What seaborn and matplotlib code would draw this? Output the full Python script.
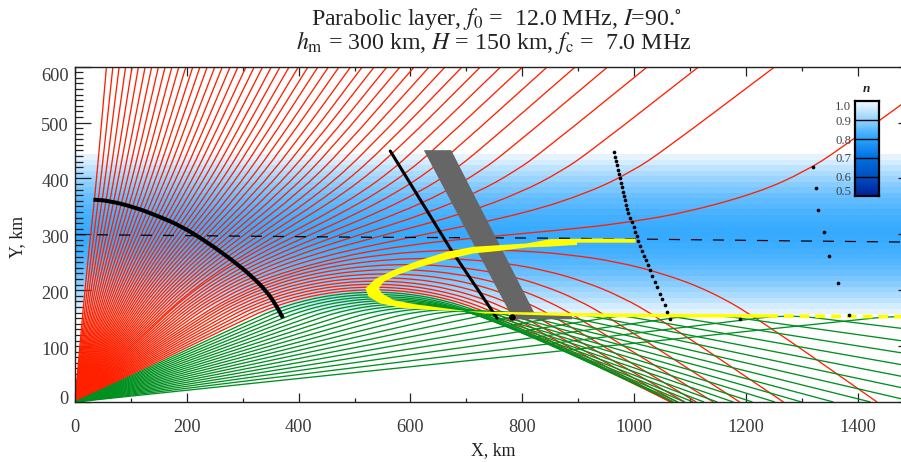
import numpy as np
import pandas as pd
import matplotlib
matplotlib.use("Agg")
import matplotlib.pyplot as plt
from matplotlib.colors import LinearSegmentedColormap
from matplotlib.patches import PathPatch
from matplotlib.path import Path
from matplotlib.transforms import ScaledTranslation
import seaborn as sns

# ---- rays that pass through the layer: x (km) at the listed heights (km) ----
low_levels = [150, 225, 300, 375, 450, 600]
low_rays = [
    [13.1, 20.2, 28.1, 36.1, 43.2, 56.3],
    [15.8, 24.4, 33.9, 43.4, 52.0, 67.8],
    [18.4, 28.4, 39.5, 50.6, 60.6, 79.0],
    [21.1, 32.5, 45.3, 58.1, 69.5, 90.6],
    [23.8, 36.7, 51.1, 65.4, 78.4, 102.2],
    [26.4, 40.7, 56.8, 72.8, 87.2, 113.6],
    [29.2, 45.0, 62.8, 80.6, 96.4, 125.6],
    [31.9, 49.2, 68.7, 88.2, 105.5, 137.4],
    [34.6, 53.4, 74.7, 95.9, 114.8, 149.4],
    [37.4, 57.7, 80.7, 103.6, 124.0, 161.4],
    [40.2, 62.1, 86.8, 111.4, 133.4, 173.6],
    [43.0, 66.5, 93.0, 119.5, 143.0, 186.0],
    [45.9, 70.9, 99.3, 127.6, 152.7, 198.6],
    [48.7, 75.3, 105.5, 135.8, 162.3, 211.0],
    [51.6, 79.8, 111.9, 143.9, 172.2, 223.8],
    [54.6, 84.5, 118.4, 152.3, 182.2, 236.8],
    [57.6, 89.2, 125.2, 161.1, 192.8, 250.4],
    [60.6, 93.9, 131.9, 169.8, 203.2, 263.8],
    [63.7, 98.8, 138.9, 179.0, 214.1, 277.8],
    [66.8, 103.6, 145.9, 188.1, 225.0, 291.8],
    [69.9, 108.6, 153.1, 197.5, 236.3, 306.2],
    [73.2, 113.8, 160.5, 207.3, 247.8, 321.0],
    [76.4, 118.9, 168.0, 217.1, 259.6, 336.0],
    [79.8, 124.1, 175.8, 227.4, 271.8, 351.6],
    [83.1, 129.5, 183.6, 237.7, 284.1, 367.2],
    [86.6, 135.0, 191.7, 248.4, 296.8, 383.4],
    [90.1, 140.5, 200.0, 259.4, 309.9, 400.0],
    [93.7, 146.3, 208.6, 270.9, 323.5, 417.2],
    [97.4, 152.1, 217.5, 282.9, 337.6, 435.0],
    [101.2, 158.3, 226.9, 295.5, 352.6, 453.8],
    [105.0, 164.4, 236.4, 308.4, 367.8, 472.8],
    [109.0, 171.3, 246.8, 322.4, 384.6, 493.6],
    [113.0, 177.8, 257.2, 336.5, 401.4, 514.4],
    [117.2, 184.6, 267.9, 351.2, 418.6, 535.8],
    [121.5, 191.7, 279.3, 366.8, 437.1, 558.6],
    [125.9, 199.0, 291.0, 383.1, 456.1, 582.0],
    [130.4, 206.5, 303.7, 400.8, 477.0, 607.4],
    [135.1, 214.4, 317.1, 419.8, 499.1, 634.2],
    [139.9, 222.7, 331.3, 439.9, 522.7, 662.6],
    [144.9, 231.0, 346.5, 462.1, 548.1, 693.0],
    [150.0, 240.0, 362.9, 485.8, 575.8, 725.8],
]
high_levels = [150, 187.5, 225, 262.5, 300, 337.5, 375, 412.5, 450, 600]
high_rays = [
    [155.3, 197.9, 249.4, 311.2, 381.1, 450.9, 512.7, 564.2, 606.8, 762.1],
    [160.9, 205.2, 259.3, 325.2, 400.7, 476.3, 542.2, 596.2, 640.6, 801.5],
    [166.6, 212.6, 269.6, 340.4, 422.8, 505.2, 575.9, 632.9, 678.9, 845.5],
    [172.6, 220.6, 280.6, 356.9, 447.8, 538.7, 615.0, 675.0, 723.0, 895.6],
    [178.8, 228.7, 292.3, 375.0, 476.8, 578.7, 661.4, 725.0, 774.9, 953.7],
    [185.2, 237.2, 304.7, 395.2, 512.2, 629.2, 719.8, 787.2, 839.2, 1024.4],
    [192.0, 246.3, 318.0, 418.7, 558.0, 697.5, 798.1, 869.9, 924.2, 1116.2],
    [199.1, 255.8, 332.5, 447.4, 626.2, 805.0, 919.9, 996.6, 1053.3, 1252.4],
]
steep_levels = [150, 187.5, 225, 262.5, 281.25, 290.6, 300, 309.4, 318.75, 337.5, 375, 412.5, 450, 600]
steep_ray = [206.5, 265.7, 348.3, 483.9, 601.3, 685.0, 785.9, 886.8, 970.6, 1087.9, 1223.5, 1306.1, 1365.3, 1571.8]

# ---- reflected rays: x at layer base, x at apex, heights along the way up ----
refl_red_base = [214.2, 222.4, 231.0, 240.0, 249.6, 259.8, 270.6, 282.1, 294.4, 307.5]
refl_red_apex = [717.4, 633.7, 594.5, 571.0, 555.7, 545.3, 538.5, 534.5, 532.9, 533.2]
refl_red_y = [
    [150, 198.2, 229.8, 250.9, 263.6, 270.5, 272.7],
    [150, 189.0, 216.7, 236.0, 248.2, 255.1, 257.3],
    [150, 184.0, 208.7, 226.1, 237.6, 244.1, 246.3],
    [150, 180.2, 202.4, 218.4, 229.1, 235.3, 237.3],
    [150, 176.8, 197.2, 211.9, 221.9, 227.7, 229.6],
    [150, 174.0, 192.7, 206.3, 215.6, 220.9, 222.7],
    [150, 171.9, 188.9, 201.3, 209.9, 214.9, 216.6],
    [150, 170.1, 185.5, 196.8, 204.9, 209.5, 211.0],
    [150, 168.1, 182.2, 192.7, 200.1, 204.4, 205.8],
    [150, 166.3, 179.3, 188.9, 195.7, 199.7, 201.0],
]
refl_green_base = [321.7, 336.9, 353.4, 371.3, 390.8, 412.1, 435.6, 461.7, 490.6, 523.1,
                   559.8, 601.6, 649.7, 705.7, 771.7, 850.7, 947.0, 1067.0, 1222.0, 1427.0]
refl_green_apex = [535.4, 539.4, 545.4, 553.0, 562.6, 574.5, 588.8, 606.0, 626.1, 649.9,
                   678.3, 711.6, 751.6, 799.5, 857.4, 928.5, 1016.9, 1129.0, 1276.0, 1473.0]
refl_green_y = [
    [150, 165.0, 176.6, 185.5, 191.7, 195.4, 196.6],
    [150, 163.6, 174.2, 182.4, 188.1, 191.4, 192.5],
    [150, 162.2, 171.9, 179.4, 184.5, 187.6, 188.6],
    [150, 161.0, 169.8, 176.6, 181.3, 184.1, 185.0],
    [150, 159.8, 167.9, 173.9, 178.2, 180.8, 181.6],
    [150, 162.7, 171.6, 176.8, 178.5],
    [150, 161.4, 169.3, 174.0, 175.5],
    [150, 160.2, 167.2, 171.4, 172.8],
    [150, 159.0, 165.3, 168.9, 170.2],
    [150, 157.9, 163.4, 166.7, 167.8],
    [150, 156.9, 161.7, 164.7, 165.6],
    [150, 156.0, 160.2, 162.7, 163.5],
    [150, 155.1, 158.7, 160.9, 161.6],
    [150, 154.4, 157.5, 159.3, 159.9],
    [150, 153.6, 156.3, 157.8, 158.3],
    [150, 152.9, 155.1, 156.4, 156.8],
    [150, 152.5, 154.1, 155.2, 155.5],
    [150, 151.8, 153.3, 154.0, 154.3],
    [150, 151.4, 152.6, 153.2, 153.3],
    [150, 151.0, 151.9, 152.3, 152.4],
]

# ---- refractive index bands ----
band_n = [.985, .967, .947, .927, .909, .892, .877, .863, .851, .840, .831, .824, .818, .814, .812,
          .814, .818, .824, .831, .840, .851, .863, .877, .892, .909, .927, .947, .967, .985]
band_bottom, band_top = 157, 443
cbar_labels = ["1.0", "0.9", "0.8", "0.7", "0.6", "0.5"]

# ---- overlays ----
dash_x = [0, 490, 870, 1306, 1500]
dash_y = [299.5, 295, 293, 288, 286]
arc_x = [33, 60, 105, 150, 189, 235, 281, 314, 344, 361.5, 372]
arc_y = [362, 360, 349, 332, 315, 287, 254, 227, 197, 170, 150]
front_x = [564, 671, 755]
front_y = [449, 275, 150]
blob_x = [782]
blob_y = [152]
grey_x = [624, 673, 755, 823, 889, 889, 784]
grey_y = [450.5, 450.5, 290, 157, 156, 148, 148]
yellow_x = [1003, 940, 850, 808.5, 761, 713, 665.4, 612, 570, 537.3, 519.4, 525.4, 546.2, 582, 641.6,
            731, 820.4, 939.6, 1240, 1240, 939.6, 820.4, 731, 641.6, 606, 570, 549.2, 543.3, 552.2,
            576, 612, 665.4, 713, 761, 808.5, 844.2, 898, 898, 1003]
yellow_y = [292, 292.5, 291.4, 283.7, 280.7, 277.7, 268.8, 252, 236, 220, 203.2, 188.3, 176.4, 168.6, 164.5,
            161.5, 160.3, 158.5, 157, 151, 152, 155.5, 158.5, 170.4, 175.2, 182.3, 194.3, 203.2, 215,
            227, 240, 255, 265.8, 270.5, 276.5, 277.7, 281, 285, 285]
yellow_dash_x = [1240, 1500]
yellow_dash_y = [154, 152.5]
dots_x = [964.6, 966.4, 968.2, 969.4, 970.6, 972.4, 974.2, 976.0, 977.8, 979.6, 981.3, 983.2, 985.0, 986.8,
          988.5, 992.0, 996.2, 999.2, 1002.0, 1004.6, 1008.0, 1011.0, 1014.0, 1017.0, 1021.3, 1024.8,
          1028.4, 1032.6, 1036.7, 1041.5, 1045.7, 1050.5, 1055.2, 1059.4, 1064.8]
dots_y = [446.4, 438.7, 431.0, 423.2, 415.4, 407.7, 400.0, 392.2, 384.4, 376.4, 368.3, 360.5, 352.8, 345.0,
          337.3, 329.3, 321.3, 313.5, 305.0, 296.8, 288.5, 279.0, 271.0, 262.0, 253.9, 245.0,
          235.4, 226.0, 215.0, 205.0, 194.0, 184.0, 173.0, 161.5, 149.0]
far_x = [1320.7, 1325, 1330, 1339, 1349, 1364.6, 1385, 1190]
far_y = [420.7, 382, 343, 304, 261, 213, 155, 149]

# ---- assemble rays ----
rows = []
ray_id = 0


def add(xs, ys, mode):
    global ray_id
    for a, b in zip(xs, ys):
        rows.append((ray_id, mode, a, b))
    ray_id += 1


for r in low_rays:
    add([0] + r, [0] + low_levels, "red")
for r in high_rays:
    add([0] + r, [0] + high_levels, "red")
add([0] + steep_ray, [0] + steep_levels, "red")
for base_list, apex_list, y_list, mode in ((refl_red_base, refl_red_apex, refl_red_y, "red"),
                                           (refl_green_base, refl_green_apex, refl_green_y, "green")):
    for b, a, ys in zip(base_list, apex_list, y_list):
        up = list(np.linspace(b, a, len(ys)))
        down = [2 * a - v for v in up[-2::-1]]
        add([0] + up + down + [2 * a], [0] + ys + ys[-2::-1] + [0], mode)
rays = pd.DataFrame(rows, columns=["ray", "mode", "x", "y"])


def smooth_path(xs, ys):
    """Path through the read knots, with matplotlib's quadratic curves as the joins."""
    pts = np.column_stack([xs, ys])
    verts = [pts[0], (pts[0] + pts[1]) / 2]
    codes = [Path.MOVETO, Path.LINETO]
    for i in range(1, len(pts) - 1):
        verts += [pts[i], (pts[i] + pts[i + 1]) / 2]
        codes += [Path.CURVE3, Path.CURVE3]
    verts.append(pts[-1])
    codes.append(Path.LINETO)
    return Path(verts, codes)


# ---- style ----
sns.set_theme(style="white")
plt.rcParams["font.family"] = ["Liberation Serif", "DejaVu Serif"]
plt.rcParams["mathtext.fontset"] = "stix"
W, H = 901, 462
fig = plt.figure(figsize=(W / 100, H / 100), dpi=100)
PX = 0.559
ax = fig.add_axes([75 / W, 60 / H, 1500 * PX / W, 600 * PX / H])
ax.set_xlim(0, 1500)
ax.set_ylim(0, 600)

cmap = LinearSegmentedColormap.from_list("n", [(0.0, "#00209a"), (0.2, "#0050bf"), (0.4, "#0070e0"),
                                               (0.6, "#2aa5ff"), (0.8, "#90d0ff"), (1.0, "#f2f9ff")])
edges = np.linspace(band_bottom, band_top, len(band_n) + 1)
ax.pcolormesh([0, 1500], edges, np.array(band_n)[:, None], cmap=cmap, vmin=0.5, vmax=1.0,
              zorder=0, antialiased=False, rasterized=True)

palette = {"red": "#ff2000", "green": "#009020"}
for mode in ("red", "green"):
    for _, g in rays[rays["mode"] == mode].groupby("ray", sort=False):
        ax.add_patch(PathPatch(smooth_path(g["x"].values, g["y"].values), fc="none", ec=palette[mode],
                               lw=0.95, zorder=2))

sns.lineplot(x=dash_x, y=dash_y, sort=False, estimator=None, color="black", linewidth=0.9, ax=ax, zorder=3,
             dashes=False).lines[-1].set_dashes((8.8, 8.8))
ax.fill(grey_x, grey_y, color="#666666", lw=0, zorder=4)
ax.add_patch(PathPatch(smooth_path(arc_x, arc_y), fc="none", ec="black", lw=2.9, capstyle="butt", zorder=5))
sns.lineplot(x=front_x, y=front_y, sort=False, estimator=None, color="black", linewidth=2.2, ax=ax, zorder=5)
ax.fill(yellow_x, yellow_y, color="#ffff00", lw=0, zorder=6)
sns.lineplot(x=yellow_dash_x, y=yellow_dash_y, sort=False, estimator=None, color="#ffff00", linewidth=2.7,
             ax=ax, zorder=6).lines[-1].set_dashes((2.6, 1.6))
sns.scatterplot(x=blob_x, y=blob_y, color="black", s=22, linewidth=0, ax=ax, zorder=7)
sns.scatterplot(x=dots_x, y=dots_y, color="black", s=7, linewidth=0, ax=ax, zorder=7)
sns.scatterplot(x=far_x, y=far_y, color="black", s=7, linewidth=0, ax=ax, zorder=7)

# ---- axes ----
ax.set_xlabel("")
ax.set_ylabel("")
ax.set_xticks(np.arange(0, 1501, 200))
ax.set_xticks(np.arange(0, 1501, 100), minor=True)
ax.set_yticks(np.arange(0, 601, 100))
ax.set_yticks(np.arange(0, 601, 10), minor=True)
TC = "#222222"
ax.tick_params(axis="x", which="major", direction="in", top=True, bottom=True, length=6.5, width=0.9,
               color=TC, pad=12.5, labelsize=13.2, labelcolor="#3a3a3a")
ax.tick_params(axis="x", which="minor", direction="in", top=True, bottom=True, length=3.2, width=0.9, color=TC)
ax.tick_params(axis="y", which="major", direction="in", left=True, right=True, length=11.5, width=0.9,
               color=TC, pad=4.5, labelsize=13.2, labelcolor="#3a3a3a")
ax.tick_params(axis="y", which="minor", direction="in", left=True, right=True, length=5.8, width=0.9, color=TC)
for side in ax.spines:
    ax.spines[side].set_visible(True)
    ax.spines[side].set_color(TC)
    ax.spines[side].set_linewidth(1.0)
for lab, v in zip(ax.get_yticklabels(), np.arange(0, 601, 100)):
    dy = {0: 5.0, 600: -8.0}.get(int(v), -2.3)
    lab.set_transform(lab.get_transform() + ScaledTranslation(0, dy / 100, fig.dpi_scale_trans))

fig.text(493 / W, 1 - 451 / H, "X, km", ha="center", va="center", fontsize=12.8, color="#222222")
fig.text(18 / W, 1 - 237 / H, "Y, km", ha="center", va="center", rotation=90, fontsize=12.8, color="#222222")
fig.text(496.5 / W, 1 - 19 / H, r"Parabolic layer, $f_0$ =  12.0 MHz, $I$=90.$^{\circ}$",
         ha="center", va="center", fontsize=17.2, color="#222222")
fig.text(494 / W, 1 - 43 / H, r"$h_{\mathrm{m}}$ = 300 km, $H$ = 150 km, $f_{\mathrm{c}}$ =  7.0 MHz",
         ha="center", va="center", fontsize=17.2, color="#222222")

# ---- colour bar ----
cax = fig.add_axes([855 / W, 1 - 196 / H, 24 / W, 95.3 / H])
ramp = np.linspace(1.0, 0.5, 96)[:, None]
sns.heatmap(ramp, cmap=cmap, vmin=0.5, vmax=1.0, cbar=False, xticklabels=False, yticklabels=False, ax=cax)
for frac in (0.2, 0.4, 0.6, 0.8):
    cax.axhline(96 * frac, color="black", lw=1.0)
for side in cax.spines:
    cax.spines[side].set_visible(True)
    cax.spines[side].set_color("black")
    cax.spines[side].set_linewidth(1.6)
cax.xaxis.set_major_locator(plt.FixedLocator([0.25, 0.5, 0.75]))
cax.tick_params(axis="x", which="both", direction="in", length=1.5, width=0.7, color="black",
                top=True, bottom=True, labelbottom=False)
label_px = [106.7, 121.7, 140.7, 159, 178, 191.7]
for txt, yp in zip(cbar_labels, label_px):
    fig.text(851 / W, 1 - yp / H, txt, ha="right", va="center", fontsize=9.2, color="#444444")
fig.text(866 / W, 1 - 89 / H, "n", ha="center", va="center", fontsize=9.5, fontweight="bold", style="italic",
         color="#222222")

fig.savefig("out.png", dpi=100)
